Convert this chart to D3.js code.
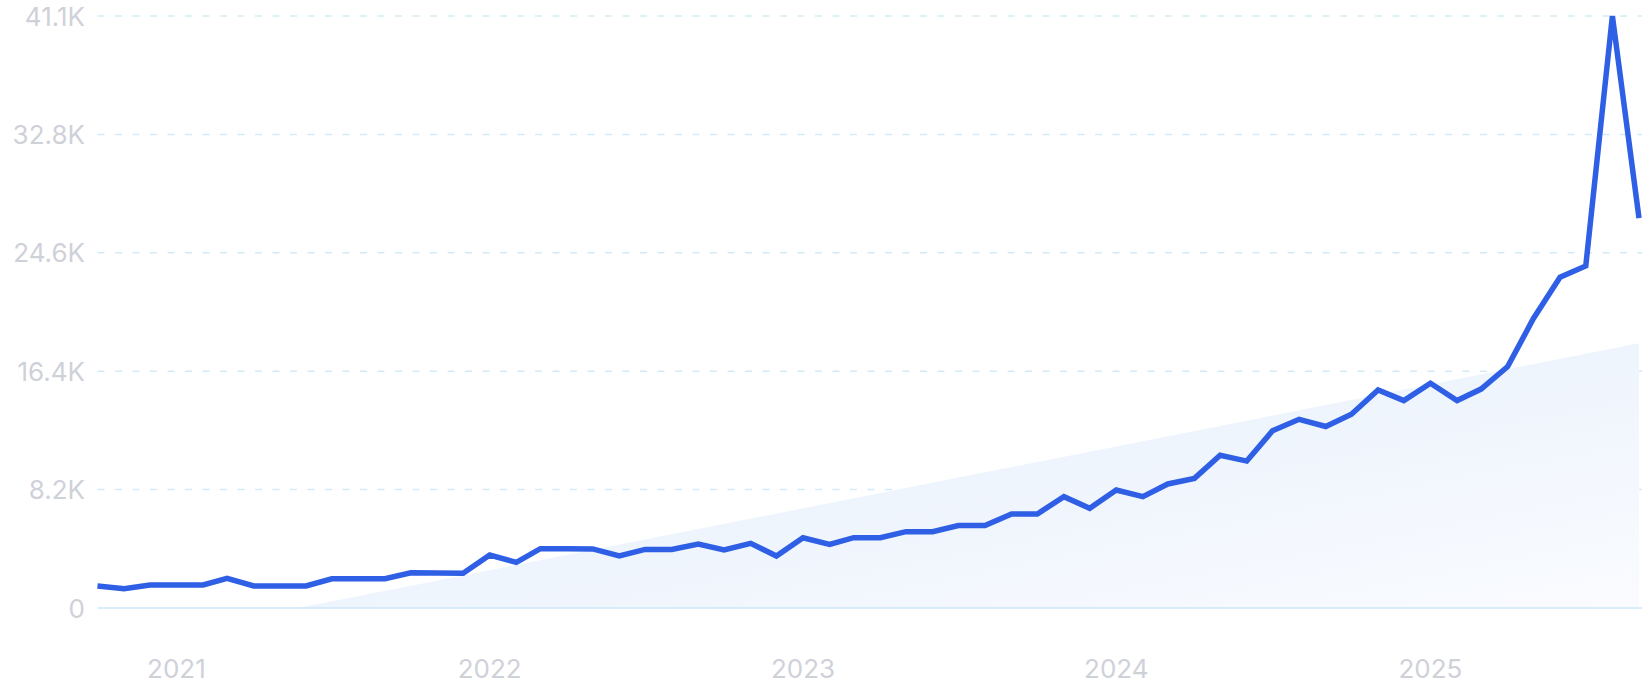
<!DOCTYPE html>
<html>
<head>
<meta charset="utf-8">
<script src="https://cdn.jsdelivr.net/npm/d3@7"></script>
<style>
  html, body { margin: 0; padding: 0; background: #fff; }
  svg { display: block; }
  text { font-family: Inter, "Noto Sans", sans-serif; }
</style>
</head>
<body>
<svg id="chart" width="1646" height="700"></svg>
<script>
// ---- data ----
const months = [
  "2020-10","2020-11","2020-12",
  "2021-01","2021-02","2021-03","2021-04","2021-05","2021-06","2021-07","2021-08","2021-09","2021-10","2021-11","2021-12",
  "2022-01","2022-02","2022-03","2022-04","2022-05","2022-06","2022-07","2022-08","2022-09","2022-10","2022-11","2022-12",
  "2023-01","2023-02","2023-03","2023-04","2023-05","2023-06","2023-07","2023-08","2023-09","2023-10","2023-11","2023-12",
  "2024-01","2024-02","2024-03","2024-04","2024-05","2024-06","2024-07","2024-08","2024-09","2024-10","2024-11","2024-12",
  "2025-01","2025-02","2025-03","2025-04","2025-05","2025-06","2025-07","2025-08","2025-09"
];
const searches = [
  1530, 1340, 1600,
  1600, 1600, 2060, 1530, 1530, 1530, 2030, 2030, 2030, 2450, 2430, 2410,
  3680, 3170, 4120, 4110, 4100, 3610, 4070, 4070, 4440, 4030, 4490, 3610,
  4880, 4420, 4880, 4880, 5300, 5300, 5720, 5720, 6530, 6530, 7730, 6920,
  8190, 7730, 8610, 9000, 10600, 10200, 12300, 13100, 12600, 13450, 15140, 14400,
  15600, 14400, 15200, 16760, 20100, 22960, 23750, 41100, 27060
];
// linear trend: value at first and last month
const trendStart = -2750;
const trendEnd = 18380;
const yMax = 41100;
const yTickValues = [0, 8220, 16440, 24660, 32880, 41100];
const yTickLabels = ["0", "8.2K", "16.4K", "24.6K", "32.8K", "41.1K"];
const xTickYears = ["2021", "2022", "2023", "2024", "2025"];

// ---- layout ----
const svg = d3.select("#chart");
const mLeft = 97.5, mRight = 1639, mTop = 16, mBottom = 608;
const parse = d3.timeParse("%Y-%m");
const dates = months.map(parse);
const data = dates.map((d, i) => ({ date: d, value: searches[i] }));

const x = d3.scaleTime().domain([dates[0], dates[dates.length - 1]]).range([mLeft, mRight]);
const y = d3.scaleLinear().domain([0, yMax]).range([mBottom, mTop]);

const defs = svg.append("defs");
const grad = defs.append("linearGradient").attr("id", "trendGrad")
  .attr("x1", "0").attr("y1", "0").attr("x2", "1").attr("y2", "1");
grad.append("stop").attr("offset", "0%").attr("stop-color", "#e2edfb");
grad.append("stop").attr("offset", "100%").attr("stop-color", "#fbfcff");
defs.append("clipPath").attr("id", "plotClip")
  .append("rect").attr("x", mLeft).attr("y", 0).attr("width", mRight - mLeft + 2).attr("height", mBottom);

// grid lines
svg.append("g").selectAll("line")
  .data(yTickValues.slice(1))
  .join("line")
  .attr("x1", mLeft).attr("x2", mRight + 3)
  .attr("y1", d => y(d)).attr("y2", d => y(d))
  .attr("stroke", "#d3ebf6").attr("stroke-width", 1.5)
  .attr("stroke-dasharray", "7,10.5");

// trend area
const trendData = [
  { date: dates[0], value: trendStart },
  { date: dates[dates.length - 1], value: trendEnd }
];
svg.append("path")
  .datum(trendData)
  .attr("clip-path", "url(#plotClip)")
  .attr("fill", "url(#trendGrad)")
  .attr("d", d3.area().x(d => x(d.date)).y0(y(0)).y1(d => y(d.value)));

// zero baseline
svg.append("line")
  .attr("x1", mLeft).attr("x2", mRight + 3)
  .attr("y1", y(0)).attr("y2", y(0))
  .attr("stroke", "#cde7f8").attr("stroke-width", 1.5);

// y labels
svg.append("g").selectAll("text")
  .data(yTickValues)
  .join("text")
  .attr("x", 85).attr("y", d => y(d))
  .attr("text-anchor", "end").attr("dominant-baseline", "central")
  .attr("fill", "#cfd1d9").attr("font-size", 26)
  .text((d, i) => yTickLabels[i]);

// x labels
svg.append("g").selectAll("text")
  .data(xTickYears)
  .join("text")
  .attr("x", d => x(parse(d + "-01")))
  .attr("y", 668)
  .attr("text-anchor", "middle").attr("dominant-baseline", "central")
  .attr("fill", "#cfd1d9").attr("font-size", 26)
  .text(d => d);

// main line
svg.append("path")
  .datum(data)
  .attr("fill", "none")
  .attr("stroke", "#2e5fe5")
  .attr("stroke-width", 5.5)
  .attr("stroke-linejoin", "miter")
  .attr("d", d3.line().x(d => x(d.date)).y(d => y(d.value)));
</script>
</body>
</html>
